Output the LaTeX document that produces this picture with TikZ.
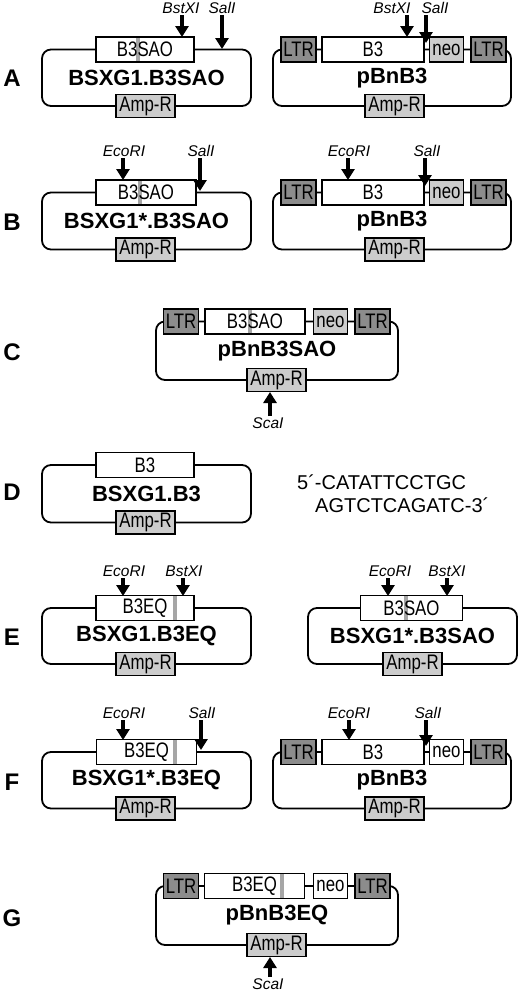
\documentclass[tikz,border=0pt]{standalone}
\usepackage{fontspec}
\setmainfont{Liberation Sans}
\newfontfamily\narrowsans[FakeStretch=0.8]{Liberation Sans}
\usetikzlibrary{arrows.meta}

\begin{document}
\begin{tikzpicture}[x=1pt, y=-1pt,
    every node/.style={inner sep=0pt},
    backbone/.style={draw, line width=1.8pt, rounded corners=9pt, minimum height=57pt,
      font=\fontsize{22}{22}\selectfont\bfseries},
    gene/.style={draw, line width=1.8pt, fill=white, minimum height=25pt,
      font=\narrowsans\fontsize{21}{21}\selectfont},
    ltr/.style={gene, fill=black!45, minimum width=35pt},
    neo/.style={gene, minimum width=34pt},
    amp/.style={gene, fill=black!20, minimum width=59pt, minimum height=23pt},
    band/.style={fill=black!35},
    stripe/.style={path picture={\fill[band] ([xshift=#1-2.25pt]path picture bounding box.south)
      rectangle ([xshift=#1+2.25pt]path picture bounding box.north);}},
    site/.style={font=\fontsize{15.5}{15.5}\selectfont\itshape, anchor=south, inner ysep=1.5pt},
    sitebelow/.style={site, anchor=north},
    cut/.style={line width=4pt, -{Triangle[width=13pt, length=11pt]}},
    panel/.style={font=\fontsize{24}{24}\selectfont\bfseries},
    seq/.style={font=\fontsize{20}{20}\selectfont, anchor=west}]
  \useasboundingbox (0,0) rectangle (520,994);

  % A
  \node[panel] (pa) at (12,78) {A};
  \node[backbone, minimum width=209pt, minimum height=56.5pt] (a1) at (146.5,77.75) {BSXG1.B3SAO};
  \node[gene, minimum width=98pt, stripe=-7pt] (a1-ins) at (145,49.5) {B3SAO};
  \node[amp] (a1-amp) at (145.5,106) {Amp-R};
  \node[site] (a1-bst) at (181,15) {BstXI};
  \node[site] (a1-sal) at (222,15) {SalI};
  \coordinate (a1-bst-t) at (182,37);
  \coordinate (a1-sal-t) at (222,49);
  \draw[cut] (a1-bst-t |- a1-bst.south) -- (a1-bst-t);
  \draw[cut] (a1-sal-t |- a1-sal.south) -- (a1-sal-t);

  \node[backbone, minimum width=238pt, minimum height=56.5pt] (a2) at (392,77.75) {pBnB3};
  \foreach \x/\n in {298.5/l1, 488.5/l2} \node[ltr] (a2-\n) at (\x,49.5) {LTR};
  \node[gene, minimum width=102pt] (a2-ins) at (373,49.5) {B3};
  \node[neo, fill=black!20] (a2-neo) at (446.5,49.5) {neo};
  \node[amp] (a2-amp) at (394.5,106) {Amp-R};
  \node[site] (a2-bst) at (392,15) {BstXI};
  \node[site] (a2-sal) at (435,15) {SalI};
  \coordinate (a2-bst-t) at (407,37);
  \coordinate (a2-sal-t) at (426,43);
  \draw[cut] (a2-bst-t |- a2-bst.south) -- (a2-bst-t);
  \draw[cut] (a2-sal-t |- a2-sal.south) -- (a2-sal-t);

  % B
  \node[panel] (pb) at (12,222) {B};
  \node[backbone, minimum width=209pt] (b1) at (146.5,221) {BSXG1*.B3SAO};
  \node[gene, minimum width=100pt, stripe=-6pt] (b1-ins) at (146,192.5) {B3SAO};
  \node[amp] (b1-amp) at (145.5,249.5) {Amp-R};
  \node[site] (b1-eco) at (124,158) {EcoRI};
  \node[site] (b1-sal) at (201,158) {SalI};
  \coordinate (b1-eco-t) at (123,180);
  \coordinate (b1-sal-t) at (200,191);
  \draw[cut] (b1-eco-t |- b1-eco.south) -- (b1-eco-t);
  \draw[cut] (b1-sal-t |- b1-sal.south) -- (b1-sal-t);

  \node[backbone, minimum width=238pt] (b2) at (392,221) {pBnB3};
  \foreach \x/\n in {298.5/l1, 488.5/l2} \node[ltr] (b2-\n) at (\x,192.5) {LTR};
  \node[gene, minimum width=102pt] (b2-ins) at (373,192.5) {B3};
  \node[neo, fill=black!20] (b2-neo) at (446.5,192.5) {neo};
  \node[amp] (b2-amp) at (394.5,249.5) {Amp-R};
  \node[site] (b2-eco) at (349,158) {EcoRI};
  \node[site] (b2-sal) at (427,158) {SalI};
  \coordinate (b2-eco-t) at (348,180);
  \coordinate (b2-sal-t) at (425,186);
  \draw[cut] (b2-eco-t |- b2-eco.south) -- (b2-eco-t);
  \draw[cut] (b2-sal-t |- b2-sal.south) -- (b2-sal-t);

  % C
  \node[panel] (pc) at (12,352) {C};
  \node[backbone, minimum width=242pt, minimum height=58.5pt] (c1) at (277,350.75) {pBnB3SAO};
  \foreach \x/\n in {181/l1, 372.5/l2} \node[ltr] (c1-\n) at (\x,321.5) {LTR};
  \node[gene, minimum width=100pt, stripe=-5pt] (c1-ins) at (255,321.5) {B3SAO};
  \node[neo, fill=black!20] (c1-neo) at (330.5,321.5) {neo};
  \node[amp] (c1-amp) at (276.5,380) {Amp-R};
  \node[sitebelow] (c1-sca) at (268,416) {ScaI};
  \coordinate (c1-sca-t) at (270,392);
  \draw[cut] (c1-sca-t |- c1-sca.north) -- (c1-sca-t);

  % D
  \node[panel] (pd) at (12,492) {D};
  \node[backbone, minimum width=209pt, minimum height=57.5pt] (d1) at (146.5,493.75) {BSXG1.B3};
  \node[gene, minimum width=98pt] (d1-ins) at (145,465) {B3};
  \node[amp] (d1-amp) at (145.5,522.5) {Amp-R};
  \node[seq] (d1-s1) at (297,482) {5´-CATATTCCTGC};
  \node[seq] (d1-s2) at (315,505) {AGTCTCAGATC-3´};

  % E
  \node[panel] (pe) at (12,637) {E};
  \node[backbone, minimum width=209pt, minimum height=56pt] (e1) at (146.5,636) {BSXG1.B3EQ};
  \node[gene, minimum width=98pt, stripe=30pt] (e1-ins) at (145,608) {B3EQ};
  \node[amp] (e1-amp) at (145.5,664) {Amp-R};
  \node[site] (e1-eco) at (124,578) {EcoRI};
  \node[site] (e1-bst) at (184,578) {BstXI};
  \coordinate (e1-eco-t) at (123,596);
  \coordinate (e1-bst-t) at (183,596);
  \draw[cut] (e1-eco-t |- e1-eco.south) -- (e1-eco-t);
  \draw[cut] (e1-bst-t |- e1-bst.south) -- (e1-bst-t);

  \node[backbone, minimum width=209pt, minimum height=56pt] (e2) at (412.5,636) {BSXG1*.B3SAO};
  \node[gene, minimum width=102pt, stripe=-5.5pt] (e2-ins) at (411.5,608) {B3SAO};
  \node[amp] (e2-amp) at (412.5,664) {Amp-R};
  \node[site] (e2-eco) at (390,578) {EcoRI};
  \node[site] (e2-bst) at (447,578) {BstXI};
  \coordinate (e2-eco-t) at (388,596);
  \coordinate (e2-bst-t) at (447,596);
  \draw[cut] (e2-eco-t |- e2-eco.south) -- (e2-eco-t);
  \draw[cut] (e2-bst-t |- e2-bst.south) -- (e2-bst-t);

  % F
  \node[panel] (pf) at (12,782) {F};
  \node[backbone, minimum width=209pt, minimum height=56.5pt] (f1) at (146.5,780.25) {BSXG1*.B3EQ};
  \node[gene, minimum width=100pt, stripe=28.5pt] (f1-ins) at (146.5,752) {B3EQ};
  \node[amp] (f1-amp) at (145.5,808.5) {Amp-R};
  \node[site] (f1-eco) at (124,720) {EcoRI};
  \node[site] (f1-sal) at (202,720) {SalI};
  \coordinate (f1-eco-t) at (123,740);
  \coordinate (f1-sal-t) at (201,750);
  \draw[cut] (f1-eco-t |- f1-eco.south) -- (f1-eco-t);
  \draw[cut] (f1-sal-t |- f1-sal.south) -- (f1-sal-t);

  \node[backbone, minimum width=238pt, minimum height=56.5pt] (f2) at (392,780.25) {pBnB3};
  \foreach \x/\n in {298.5/l1, 488.5/l2} \node[ltr] (f2-\n) at (\x,752) {LTR};
  \node[gene, minimum width=102pt] (f2-ins) at (373,752) {B3};
  \node[neo] (f2-neo) at (446.5,752) {neo};
  \node[amp] (f2-amp) at (394.5,808.5) {Amp-R};
  \node[site] (f2-eco) at (349,720) {EcoRI};
  \node[site] (f2-sal) at (428,720) {SalI};
  \coordinate (f2-eco-t) at (349,740);
  \coordinate (f2-sal-t) at (426,746);
  \draw[cut] (f2-eco-t |- f2-eco.south) -- (f2-eco-t);
  \draw[cut] (f2-sal-t |- f2-sal.south) -- (f2-sal-t);

  % G
  \node[panel] (pg) at (12,918) {G};
  \node[backbone, minimum width=242pt, minimum height=59pt] (g1) at (277,915.5) {pBnB3EQ};
  \foreach \x/\n in {181/l1, 372.5/l2} \node[ltr] (g1-\n) at (\x,886) {LTR};
  \node[gene, minimum width=100pt, stripe=27.5pt] (g1-ins) at (254.5,886) {B3EQ};
  \node[neo] (g1-neo) at (330.5,886) {neo};
  \node[amp] (g1-amp) at (276.5,945) {Amp-R};
  \node[sitebelow] (g1-sca) at (268,977) {ScaI};
  \coordinate (g1-sca-t) at (270,957);
  \draw[cut] (g1-sca-t |- g1-sca.north) -- (g1-sca-t);
\end{tikzpicture}
\end{document}
